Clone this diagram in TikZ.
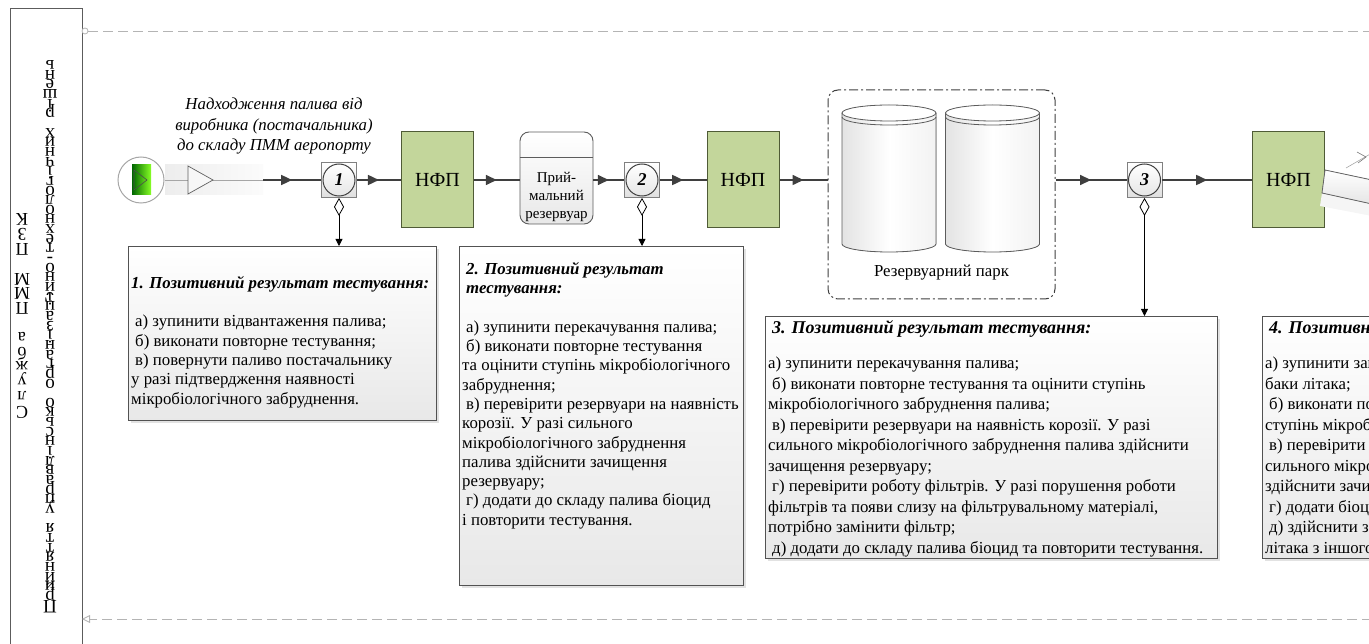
\documentclass[tikz,border=0pt]{standalone}
\usepackage{fontspec}
\setmainfont{Liberation Serif}
\usetikzlibrary{arrows.meta,positioning,calc,decorations.markings,shadows}
\definecolor{ink}{HTML}{3F3F3F}
\definecolor{nfpgreen}{HTML}{C3D69B}
\definecolor{nfpline}{HTML}{4F5B36}
\definecolor{lanegray}{HTML}{B4B4B4}
\newcommand{\gap}{\hspace*{4pt}}
% letters one under another (for the lane headers)
\newcommand{\stackup}[2]{\vbox{\baselineskip=#1\lineskiplimit=-\maxdimen\stackupi#2\relax}}
\def\stackupi#1{\ifx\relax#1\else\hbox to 1.2em{\hss#1\hss}\expandafter\stackupi\fi}

\begin{document}
\begin{tikzpicture}[x=1pt, y=-1pt,
  font=\fontsize{16.8}{19.3}\selectfont,
  every node/.style={inner sep=0pt},
  flow/.style={line width=1.6pt, draw=ink, postaction={decorate},
    decoration={markings, mark=at position 0.5 with {\arrow{Triangle[length=11pt, width=10pt]}}}},
  memo/.style={line width=0.8pt, draw=black,
    {Diamond[open, length=18pt, width=10pt]}-{Triangle[length=7pt, width=7pt]}},
  nfp/.style={draw=nfpline, line width=1pt, fill=nfpgreen, minimum width=72,
    minimum height=96, font=\fontsize{20}{22}\selectfont},
  numsq/.style={draw=gray, line width=0.8pt, top color=white, bottom color=gray!25, minimum size=35},
  numcirc/.style={circle, draw=ink, line width=1pt, top color=white, bottom color=gray!20,
    minimum size=32, font=\fontsize{18}{20}\selectfont\bfseries\itshape},
  note/.style={draw=ink!90, line width=0.9pt, top color=white, bottom color=gray!18,
    anchor=north west, drop shadow={shadow xshift=3pt, shadow yshift=-3pt, fill=gray!45}},
  notetext/.style={anchor=north west, align=left},
  widetext/.style={notetext, font=\fontsize{16.8}{20.5}\selectfont},
  lane/.style={draw=lanegray, line width=0.9pt, dash pattern=on 10pt off 5pt},
  tank/.style={draw=ink!85, line width=0.8pt},
]
\useasboundingbox (0,0) rectangle (1369,644);
\clip (0,0) rectangle (1369,644);

% pool header
\node[draw=ink!85, line width=0.8pt, anchor=north west, minimum width=72, minimum height=660] (pool) at (10,8) {};
\node[rotate=180, font=\fontsize{18}{15}\selectfont] (poolname) at (22,316)
  {\stackup{14.8pt}{Служба~ПММ~ПЗК}};
\node[rotate=180, font=\fontsize{19}{10}\selectfont] (lanename) at (50,337)
  {\stackup{9.65pt}{Прийняття~управлінсько~організаційно-технологічних~рішень}};

% lane borders
\node[circle, draw=lanegray, line width=0.8pt, fill=white, minimum size=6] (lanetop) at (85,31) {};
\coordinate (laneend) at (1372,31);
\draw[lane] (lanetop) -- (laneend);
\coordinate (lanebot) at (1372,619);
\coordinate (laneback) at (82,619);
\draw[lane, -{Triangle[open, length=8pt, width=8pt]}] (lanebot) -- (laneback);

% start event and incoming fuel
\node[circle, draw=gray!70, line width=1pt, fill=white, minimum size=46] (start) at (141,180) {};
\shade[left color=green!40!black, right color=green!55!yellow!85] (132,165) rectangle (151,195);
\draw[gray!60!black, line width=0.6pt] (134,170) -- (147,180) -- (134,190) -- cycle;
\node[minimum width=98, minimum height=30, left color=gray!14, right color=gray!3] (inflow) at (214,180) {};
\draw[gray!70, line width=0.8pt] (start) -- (inflow.east);
\draw[gray!75!black, line width=0.7pt, fill=gray!6] (188,166) -- (213,180) -- (188,194) -- cycle;
\node[align=center, font=\fontsize{16.8}{20.5}\selectfont\itshape] (inlabel) at (274,126)
  {Надходження палива від\\виробника (постачальника)\\до складу ПММ аеропорту};

% main line
\node[numsq] (sq1) at (339,180) {};
\node[numcirc] (n1) at (sq1) {1};
\node[nfp] (nfp1) at (437.5,180) {НФП};
\node[draw=ink!85, line width=0.9pt, rounded corners=9pt, top color=white, bottom color=gray!18,
  minimum width=73, minimum height=92] (rtank) at (556.5,178) {};
\coordinate (hdr) at (0,157);
\draw[ink!85, line width=0.8pt] (rtank.west |- hdr) -- (rtank.east |- hdr);
\node[align=center, font=\fontsize{15}{18}\selectfont] (rtanklabel) at (556.5,197)
  {Прий-\\мальний\\резервуар};
\node[numsq] (sq2) at (642,180) {};
\node[numcirc] (n2) at (sq2) {2};
\node[nfp] (nfp2) at (743,180) {НФП};

% tank farm
\node[draw=ink, line width=1pt, dash pattern=on 9pt off 3pt on 2pt off 3pt, rounded corners=10pt,
  minimum width=227, minimum height=209] (park) at (941.5,194.5) {};
\foreach \cx in {889,992.5}{
  \fill[left color=gray!22, right color=gray!10, middle color=white]
    (\cx-47,117) -- (\cx-47,244) arc[start angle=180, end angle=360, x radius=47pt, y radius=8pt]
    -- (\cx+47,113) arc[start angle=0, end angle=180, x radius=47pt, y radius=8pt] -- cycle;
  \draw[tank] (\cx-47,113) -- (\cx-47,244) arc[start angle=180, end angle=360, x radius=47pt, y radius=8pt]
    -- (\cx+47,113);
  \draw[tank, fill=white] (\cx,113) ellipse [x radius=47pt, y radius=8pt];
  \draw[tank] (\cx-47,117) arc[start angle=180, end angle=360, x radius=47pt, y radius=8pt];
}
\node[font=\fontsize{16.8}{19}\selectfont] (parklabel) at (941.5,273) {Резервуарний парк};

\node[numsq] (sq3) at (1144.5,180) {};
\node[numcirc] (n3) at (sq3) {3};
\node[nfp] (nfp3) at (1288.5,180) {НФП};

\draw[flow] (inflow.east) -- (sq1);
\draw[flow] (sq1) -- (nfp1);
\draw[flow] (nfp1) -- (rtank.west |- nfp1);
\draw[flow] (rtank.east |- sq2) -- (sq2);
\draw[flow] (sq2) -- (nfp2);
\draw[flow] (nfp2) -- (nfp2 -| park.west);
\draw[flow] (sq3 -| park.east) -- (sq3);
\draw[flow] (sq3) -- (nfp3);

% fuelling, cut at the edge
\fill[gray!8] (1322,193) -- (1372,204) -- (1372,216) -- (1320,206) -- cycle;
\fill[top color=white, bottom color=gray!20] (1325,170) -- (1372,180) -- (1372,204) -- (1322,193) -- cycle;
\draw[ink!80, line width=0.8pt] (1372,180) -- (1325,170) -- (1322,193) -- (1372,204);
\draw[gray!70, line width=0.6pt] (1346,168) -- (1372,153);
\draw[ink!70, line width=0.6pt] (1357,152) -- (1366,157) -- (1358,163);

% actions on a positive test
\node[note, minimum width=308, minimum height=174] (note1) at (128,246) {};
\node[notetext] (note1txt) at ([shift={(3,30)}]note1.north west)
  {\textbf{\textit{1. Позитивний результат тестування:}}\\[19.3pt]
   \gap а) зупинити відвантаження палива;\\
   \gap б) виконати повторне тестування;\\
   \gap в) повернути паливо постачальнику\\
   у разі підтвердження наявності\\
   мікробіологічного забруднення.};

\node[note, minimum width=284, minimum height=339] (note2) at (459,246) {};
\node[notetext] (note2txt) at ([shift={(3,16)}]note2.north west)
  {\gap\textbf{\textit{2. Позитивний результат}}\\
   \gap\textbf{\textit{тестування:}}\\[19.3pt]
   \gap а) зупинити перекачування палива;\\
   \gap б) виконати повторне тестування\\
   та оцінити ступінь мікробіологічного\\
   забруднення;\\
   \gap в) перевірити резервуари на наявність\\
   корозії. У разі сильного\\
   мікробіологічного забруднення\\
   палива здійснити зачищення\\
   резервуару;\\
   \gap г) додати до складу палива біоцид\\
   і повторити тестування.};

\node[note, minimum width=452, minimum height=242] (note3) at (765,316) {};
\node[widetext] (note3txt) at ([shift={(3,4)}]note3.north west)
  {\gap{\fontsize{18}{20.5}\selectfont\textbf{\textit{3. Позитивний результат тестування:}}}\\[15pt]
   а) зупинити перекачування палива;\\
   \gap б) виконати повторне тестування та оцінити ступінь\\
   мікробіологічного забруднення палива;\\
   \gap в) перевірити резервуари на наявність корозії. У разі\\
   сильного мікробіологічного забруднення палива здійснити\\
   зачищення резервуару;\\
   \gap г) перевірити роботу фільтрів. У разі порушення роботи\\
   фільтрів та появи слизу на фільтрувальному матеріалі,\\
   потрібно замінити фільтр;\\
   \gap д) додати до складу палива біоцид та повторити тестування.};

\node[note, minimum width=220, minimum height=242] (note4) at (1262,316) {};
\node[widetext] (note4txt) at ([shift={(3,4)}]note4.north west)
  {\gap{\fontsize{18}{20.5}\selectfont\textbf{\textit{4. Позитивний результат тестування:}}}\\[15pt]
   а) зупинити заправлення палива в\\
   баки літака;\\
   \gap б) виконати повторне тестування та оцінити\\
   ступінь мікробіологічного забруднення палива;\\
   \gap в) перевірити баки літака на наявність корозії. У разі\\
   сильного мікробіологічного забруднення палива\\
   здійснити зачищення баків;\\
   \gap г) додати біоцид до палива;\\
   \gap д) здійснити заправлення\\
   літака з іншого джерела.};

\draw[memo] (sq1.south) -- (sq1.south |- note1.north);
\draw[memo] (sq2.south) -- (sq2.south |- note2.north);
\draw[memo] (sq3.south) -- (sq3.south |- note3.north);
\end{tikzpicture}
\end{document}
